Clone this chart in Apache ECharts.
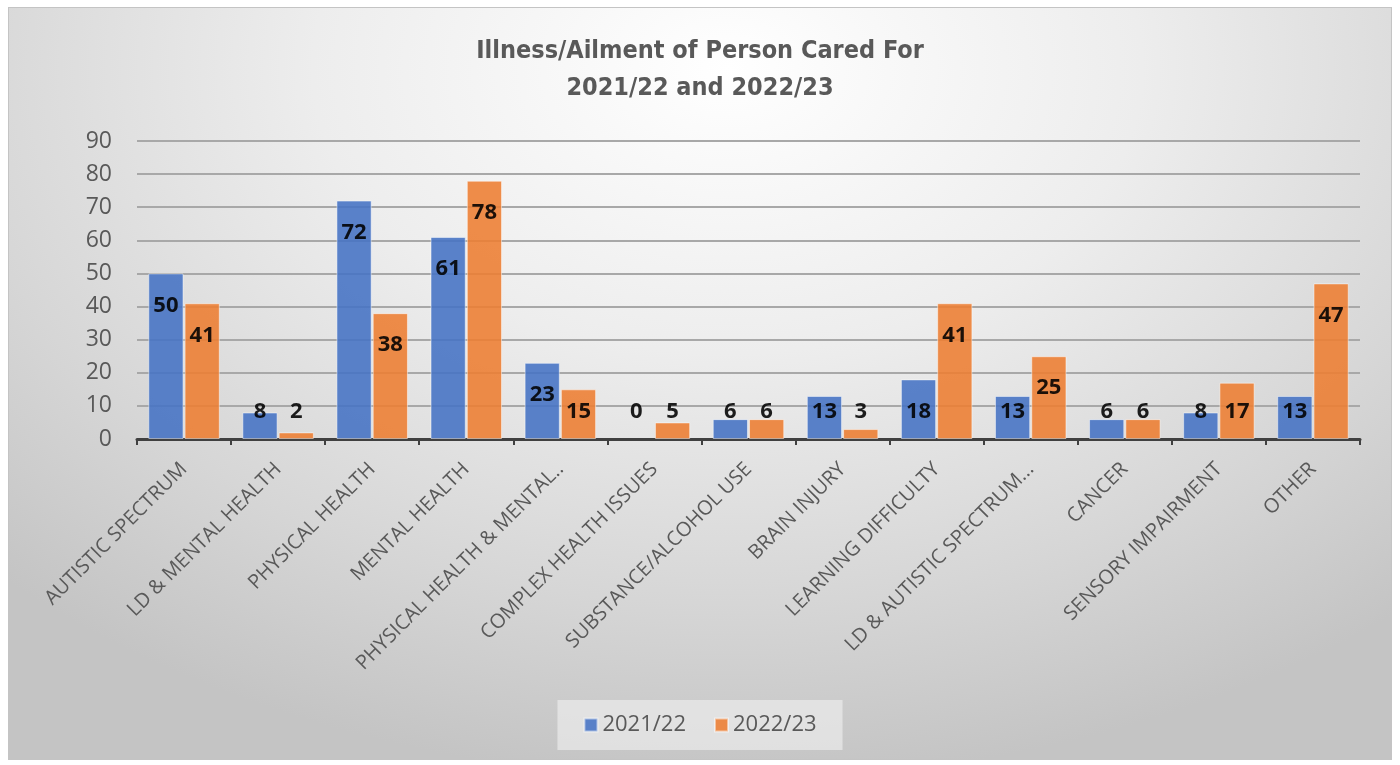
<!DOCTYPE html>
<html>
<head>
<meta charset="utf-8">
<script src="https://cdn.jsdelivr.net/npm/echarts@6/dist/echarts.min.js"></script>
<style>
  html, body { margin: 0; padding: 0; background: #ffffff; width: 1400px; height: 765px; overflow: hidden; }
  #frame {
    position: absolute; left: 8px; top: 7px; width: 1382px; height: 751px;
    border: 1px solid #c4c4c4;
    background: radial-gradient(ellipse 75% 95% at 52% 8%, #ffffff 0%, #ededed 40%, #d6d6d6 75%, #c4c4c4 100%);
  }
  #chart { position: absolute; left: 0; top: 0; width: 1400px; height: 765px; }
</style>
</head>
<body>
<div id="frame"></div>
<div id="chart"></div>
<script>
// Illness / ailment categories of the person cared for
const categories = [
  'AUTISTIC SPECTRUM',
  'LD & MENTAL HEALTH',
  'PHYSICAL HEALTH',
  'MENTAL HEALTH',
  'PHYSICAL HEALTH & MENTAL..',
  'COMPLEX HEALTH ISSUES',
  'SUBSTANCE/ALCOHOL USE',
  'BRAIN INJURY',
  'LEARNING DIFFICULTY',
  'LD & AUTISTIC SPECTRUM...',
  'CANCER',
  'SENSORY IMPAIRMENT',
  'OTHER'
];
const seriesNames = ['2021/22', '2022/23'];
const values2122 = [50, 8, 72, 61, 23, 0, 6, 13, 18, 13, 6, 8, 13];
const values2223 = [41, 2, 38, 78, 15, 5, 6, 3, 41, 25, 6, 17, 47];
const yTicks = { min: 0, max: 90, interval: 10 };

const textGrey = '#595959';
const bodyFont = '"Open Sans", "Noto Sans", sans-serif';

const chart = echarts.init(document.getElementById('chart'), null, { renderer: 'canvas' });

function barSeries(name, values, color) {
  return {
    name: name,
    type: 'bar',
    data: values.map(v => ({ value: v })),
    barGap: '3%',
    barCategoryGap: '24%',
    itemStyle: { color: color, opacity: 0.88, borderColor: 'rgba(255,255,255,0.55)', borderWidth: 1 },
    label: {
      show: true,
      position: 'insideTop',
      color: '#000000',
      fontFamily: bodyFont,
      fontWeight: 'bold',
      fontSize: 22,
      lineHeight: 20
    }
  };
}

const option = {
  animation: false,
  title: {
    text: 'Illness/Ailment of Person Cared For\n2021/22 and 2022/23',
    left: 'center',
    top: 28,
    textStyle: {
      fontFamily: '"Liberation Sans Narrow", "DejaVu Sans Condensed", sans-serif',
      fontWeight: 'bold',
      fontSize: 25,
      lineHeight: 37,
      color: textGrey
    }
  },
  legend: {
    data: seriesNames,
    left: 'center',
    top: 700,
    itemWidth: 13,
    itemHeight: 13,
    itemGap: 28,
    padding: [14, 26, 14, 26],
    backgroundColor: 'rgba(238,238,238,0.65)',
    icon: 'rect',
    textStyle: { fontFamily: bodyFont, fontSize: 22, color: textGrey }
  },
  grid: { left: 137, right: 40, top: 141, bottom: 326, containLabel: false },
  xAxis: {
    type: 'category',
    data: categories,
    axisLine: { lineStyle: { color: '#404040', width: 3 } },
    axisTick: { show: true, length: 6, lineStyle: { color: '#404040', width: 2 } },
    axisLabel: {
      rotate: 45,
      interval: 0,
      margin: 27,
      fontFamily: bodyFont,
      fontSize: 20,
      color: textGrey
    }
  },
  yAxis: {
    type: 'value',
    min: yTicks.min,
    max: yTicks.max,
    interval: yTicks.interval,
    axisLine: { show: false },
    axisTick: { show: false },
    axisLabel: { margin: 25, fontFamily: bodyFont, fontSize: 23, color: textGrey },
    splitLine: { lineStyle: { color: '#a8a8a8', width: 2 } }
  },
  series: [
    barSeries(seriesNames[0], values2122, '#4472C4'),
    barSeries(seriesNames[1], values2223, '#ED7D31')
  ]
};

chart.setOption(option);

// Place each value label a fixed distance below the bar top, but never lower
// than a common floor line near the axis (so short bars show their value above).
// Zero-height bars get no outline so only their label shows.
const basePx = chart.convertToPixel({ yAxisIndex: 0 }, 0);
const pxPerUnit = (basePx - chart.convertToPixel({ yAxisIndex: 0 }, 90)) / 90;
function labelled(values) {
  return values.map(v => {
    const h = v * pxPerUnit;
    const centerFromTop = Math.min(32, h - 27);
    const item = { value: v, label: { distance: centerFromTop - 10 } };
    if (v === 0) item.itemStyle = { borderWidth: 0 };
    return item;
  });
}
chart.setOption({
  series: [
    { data: labelled(values2122) },
    { data: labelled(values2223) }
  ]
});
</script>
</body>
</html>
